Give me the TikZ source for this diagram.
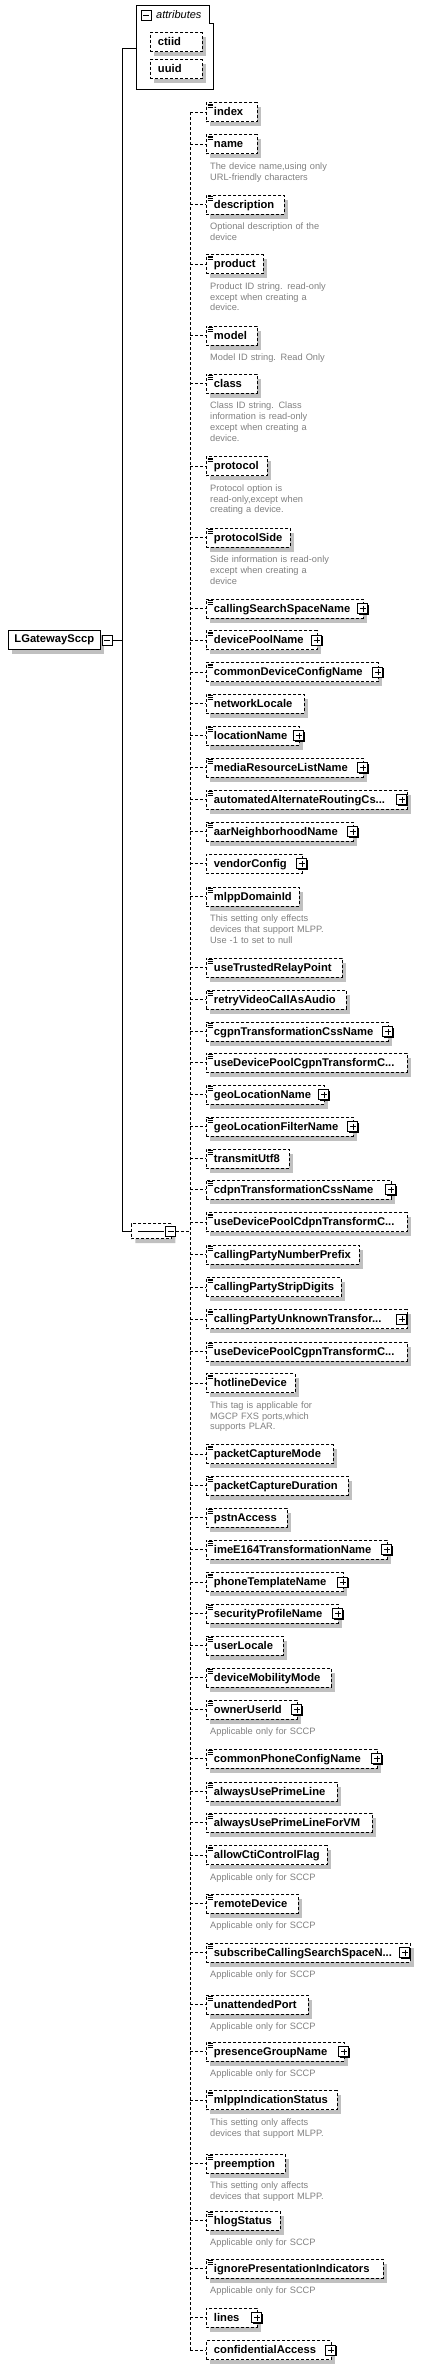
\documentclass[tikz,border=0pt]{standalone}
\usepackage{fontspec}
\setmainfont{Liberation Sans}
\usepackage{xcolor}
\usepackage{tikz}
\usetikzlibrary{positioning,shadows,calc,shapes.misc}
\definecolor{shade}{RGB}{192,192,192}
\definecolor{notegray}{RGB}{128,128,128}
\newcommand{\elemfont}{\fontsize{11.2}{13}\selectfont\bfseries}
\newcommand{\notefont}{\fontsize{9.25}{10.7}\selectfont}
\newcommand{\expander}[2][-1pt]{\node[plusbox] (#2-x) at ([xshift=#1]#2.east) {};}

\begin{document}
\begin{tikzpicture}[x=1pt, y=-1pt,
    box/.style={rectangle, draw, line width=0.9pt, dash pattern=on 3pt off 2pt,
                fill=white, anchor=west, minimum height=19pt, inner xsep=7.5pt,
                inner ysep=0pt, text height=8pt, text depth=1pt,
                text width=#1pt-15pt, align=left, font=\elemfont},
    shadowed/.style={drop shadow={shadow xshift=4pt, shadow yshift=-4.5pt,
                fill=shade, opacity=1}},
    elem/.style={box=#1, shadowed,
                path picture={\foreach \k in {1.6pt,3.3pt,5pt}
                  \draw[solid, line width=0.7pt] ([xshift=1.2pt, yshift=-\k]path picture bounding box.north west) -- ++(5pt,0pt);}},
    group/.style={box=#1, shadowed},
    note/.style={anchor=base west, inner sep=0pt, text width=150pt, align=left,
                font=\notefont, text=notegray},
    plusbox/.style={rectangle, draw, solid, line width=0.9pt, fill=white,
                minimum size=10pt, inner sep=0pt,
                drop shadow={shadow xshift=1pt, shadow yshift=-1pt, fill=black, opacity=1},
                path picture={\draw[line width=0.8pt] ([xshift=2pt]path picture bounding box.west) -- ([xshift=-2pt]path picture bounding box.east);
                              \draw[line width=0.8pt] ([yshift=-2pt]path picture bounding box.north) -- ([yshift=2pt]path picture bounding box.south);}},
    minusbox/.style={rectangle, draw, solid, line width=0.9pt, fill=white,
                minimum size=10pt, inner sep=0pt,
                path picture={\draw[line width=0.8pt] ([xshift=2pt]path picture bounding box.west) -- ([xshift=-2pt]path picture bounding box.east);}},
    tree/.style={line width=0.9pt},
    conn/.style={line width=0.9pt, dash pattern=on 3pt off 2pt},
]
\useasboundingbox (0,0) rectangle (421,2369);

% root element
\node[rectangle, draw, line width=0.9pt, fill=white, anchor=west, minimum height=19pt,
      inner xsep=6pt, font=\elemfont, shadowed] (root) at (8,640) {LGatewaySccp};
\node[minusbox, right=1pt of root] (root-x) {};
\coordinate (hub) at (122,640);

% attributes
\draw[tree, fill=white] (136,5) -- (209,5) -- (209,23) -- (213,23) |- (136,89) -- cycle;
\node[minusbox] (attrs-x) at (146,15) {};
\node[anchor=west, inner sep=0pt, font=\fontsize{11}{13}\selectfont\itshape] (attrs) at (156,15) {attributes};
\coordinate (attrs-in) at (136,48);
\node[box=52, shadowed] (ctiid) at (150,42) {ctiid};
\node[box=52, shadowed] (uuid) at (150,69) {uuid};

% sequence
\node[chamfered rectangle, chamfered rectangle xsep=3pt, chamfered rectangle ysep=3pt,
      draw, line width=0.9pt, dash pattern=on 3pt off 2pt, fill=white, anchor=west,
      minimum width=40pt, minimum height=15pt, inner sep=0pt, shadowed,
      path picture={\draw[solid, line width=0.8pt] ([xshift=7pt]path picture bounding box.west) -- ([xshift=-7pt]path picture bounding box.east);
                    \foreach \d in {-7pt,0pt,7pt} \fill ([xshift=\d]path picture bounding box.center) rectangle ++(2pt,2pt);}] (seq) at (131,1231) {};
\node[minusbox] (seq-x) at ([xshift=-1pt]seq.east) {};
\coordinate (trunk) at (190,1231);

% children of the sequence
\node[elem=51] (idx) at (206,112) {index};
\node[elem=51] (nm) at (206,144) {name};
\node[note] (nm-n) at ([xshift=4pt,yshift=-15.5pt]nm.south west) {The device name,using only\\URL-friendly characters};
\node[elem=78] (descr) at (206,204.5) {description};
\node[note] (descr-n) at ([xshift=4pt,yshift=-15.5pt]descr.south west) {Optional description of the\\device};
\node[elem=57] (prod) at (206,264) {product};
\node[note] (prod-n) at ([xshift=4pt,yshift=-15.5pt]prod.south west) {Product ID string. read-only\\except when creating a\\device.};
\node[elem=51] (model) at (206,335.5) {model};
\node[note] (model-n) at ([xshift=4pt,yshift=-15.5pt]model.south west) {Model ID string. Read Only};
\node[elem=51] (cls) at (206,383.5) {class};
\node[note] (cls-n) at ([xshift=4pt,yshift=-15.5pt]cls.south west) {Class ID string. Class\\information is read-only\\except when creating a\\device.};
\node[elem=61] (proto) at (206,466) {protocol};
\node[note] (proto-n) at ([xshift=4pt,yshift=-15.5pt]proto.south west) {Protocol option is\\read-only,except when\\creating a device.};
\node[elem=84] (side) at (206,537.5) {protocolSide};
\node[note] (side-n) at ([xshift=4pt,yshift=-15.5pt]side.south west) {Side information is read-only\\except when creating a\\device};
\node[elem=157] (csn) at (206,608.5) {callingSearchSpaceName};
\expander{csn}
\node[elem=111] (dpn) at (206,640) {devicePoolName};
\expander{dpn}
\node[elem=172] (cdcn) at (206,672) {commonDeviceConfigName};
\expander{cdcn}
\node[elem=98] (nl) at (206,703.5) {networkLocale};
\node[elem=93] (loc) at (206,735.5) {locationName};
\expander{loc}
\node[elem=157] (mrl) at (206,767.5) {mediaResourceListName};
\expander{mrl}
\node[elem=201] (aar) at (206,799.5) {automatedAlternateRoutingCs...};
\expander[-6pt]{aar}
\node[elem=147] (aarn) at (206,831.5) {aarNeighborhoodName};
\expander{aarn}
\node[box=96] (vend) at (206,863.5) {vendorConfig};
\expander{vend}
\node[elem=93] (mlpp) at (206,896.5) {mlppDomainId};
\node[note] (mlpp-n) at ([xshift=4pt,yshift=-15.5pt]mlpp.south west) {This setting only effects\\devices that support MLPP.\\Use -1 to set to null};
\node[elem=136] (utrp) at (206,967.5) {useTrustedRelayPoint};
\node[elem=140] (rvc) at (206,999.5) {retryVideoCallAsAudio};
\node[elem=182] (cgpn) at (206,1031.5) {cgpnTransformationCssName};
\expander{cgpn}
\node[elem=201] (udpcg) at (206,1062.5) {useDevicePoolCgpnTransformC...};
\node[elem=118] (geo) at (206,1094.5) {geoLocationName};
\expander{geo}
\node[elem=147] (geof) at (206,1126.5) {geoLocationFilterName};
\expander{geof}
\node[elem=83] (utf) at (206,1158.5) {transmitUtf8};
\node[elem=185] (cdpn) at (206,1189.5) {cdpnTransformationCssName};
\expander{cdpn}
\node[elem=201] (udpcd) at (206,1222) {useDevicePoolCdpnTransformC...};
\node[elem=153] (cpnp) at (206,1254.5) {callingPartyNumberPrefix};
\node[elem=135] (cpsd) at (206,1287) {callingPartyStripDigits};
\node[elem=201] (cput) at (206,1319) {callingPartyUnknownTransfor...};
\expander[-6pt]{cput}
\node[elem=201] (udpcg2) at (206,1351.5) {useDevicePoolCgpnTransformC...};
\node[elem=89] (hot) at (206,1383) {hotlineDevice};
\node[note] (hot-n) at ([xshift=4pt,yshift=-15.5pt]hot.south west) {This tag is applicable for\\MGCP FXS ports,which\\supports PLAR.};
\node[elem=127] (pcm) at (206,1454) {packetCaptureMode};
\node[elem=142] (pcd) at (206,1485.5) {packetCaptureDuration};
\node[elem=81] (pstn) at (206,1517.5) {pstnAccess};
\node[elem=181] (ime) at (206,1549.5) {imeE164TransformationName};
\expander{ime}
\node[elem=137] (ptn) at (206,1582) {phoneTemplateName};
\expander{ptn}
\node[elem=132] (spn) at (206,1613.5) {securityProfileName};
\expander{spn}
\node[elem=77] (ul) at (206,1645.5) {userLocale};
\node[elem=125] (dmm) at (206,1677.5) {deviceMobilityMode};
\node[elem=91] (own) at (206,1709.5) {ownerUserId};
\expander{own}
\node[note] (own-n) at ([xshift=4pt,yshift=-15.5pt]own.south west) {Applicable only for SCCP};
\node[elem=171] (cpcn) at (206,1758.5) {commonPhoneConfigName};
\expander{cpcn}
\node[elem=131] (aupl) at (206,1791.5) {alwaysUsePrimeLine};
\node[elem=166] (auvm) at (206,1822.5) {alwaysUsePrimeLineForVM};
\node[elem=121] (acti) at (206,1855) {allowCtiControlFlag};
\node[note] (acti-n) at ([xshift=4pt,yshift=-15.5pt]acti.south west) {Applicable only for SCCP};
\node[elem=92] (rem) at (206,1903.5) {remoteDevice};
\node[note] (rem-n) at ([xshift=4pt,yshift=-15.5pt]rem.south west) {Applicable only for SCCP};
\node[elem=204] (scss) at (206,1952.5) {subscribeCallingSearchSpaceN...};
\expander[-6pt]{scss}
\node[note] (scss-n) at ([xshift=4pt,yshift=-15.5pt]scss.south west) {Applicable only for SCCP};
\node[elem=102] (unat) at (206,2004.5) {unattendedPort};
\node[note] (unat-n) at ([xshift=4pt,yshift=-15.5pt]unat.south west) {Applicable only for SCCP};
\node[elem=138] (pgn) at (206,2051.5) {presenceGroupName};
\expander{pgn}
\node[note] (pgn-n) at ([xshift=4pt,yshift=-15.5pt]pgn.south west) {Applicable only for SCCP};
\node[elem=131] (mis) at (206,2100) {mlppIndicationStatus};
\node[note] (mis-n) at ([xshift=4pt,yshift=-15.5pt]mis.south west) {This setting only affects\\devices that support MLPP.};
\node[elem=79] (pre) at (206,2163.5) {preemption};
\node[note] (pre-n) at ([xshift=4pt,yshift=-15.5pt]pre.south west) {This setting only affects\\devices that support MLPP.};
\node[elem=74] (hlog) at (206,2220.5) {hlogStatus};
\node[note] (hlog-n) at ([xshift=4pt,yshift=-15.5pt]hlog.south west) {Applicable only for SCCP};
\node[elem=177] (ipi) at (206,2268.5) {ignorePresentationIndicators};
\node[note] (ipi-n) at ([xshift=4pt,yshift=-15.5pt]ipi.south west) {Applicable only for SCCP};
\node[group=51] (lines) at (206,2317.5) {lines};
\expander{lines}
\node[group=125] (conf) at (206,2350) {confidentialAccess};
\expander{conf}

% connectors
\draw[tree] (root-x) -- (hub);
\draw[tree] (hub) |- (attrs-in);
\draw[tree] (hub) |- (seq.west);
\draw[conn] (seq-x) -- (trunk);
\draw[conn] (trunk |- idx.west) -- (trunk |- conf.west);
\foreach \n in {idx,nm,descr,prod,model,cls,proto,side,csn,dpn,cdcn,nl,loc,mrl,aar,aarn,
                vend,mlpp,utrp,rvc,cgpn,udpcg,geo,geof,utf,cdpn,udpcd,cpnp,cpsd,cput,udpcg2,
                hot,pcm,pcd,pstn,ime,ptn,spn,ul,dmm,own,cpcn,aupl,auvm,acti,rem,scss,unat,
                pgn,mis,pre,hlog,ipi,lines,conf}
  \draw[conn] (trunk |- \n.west) -- (\n.west);
\end{tikzpicture}
\end{document}
